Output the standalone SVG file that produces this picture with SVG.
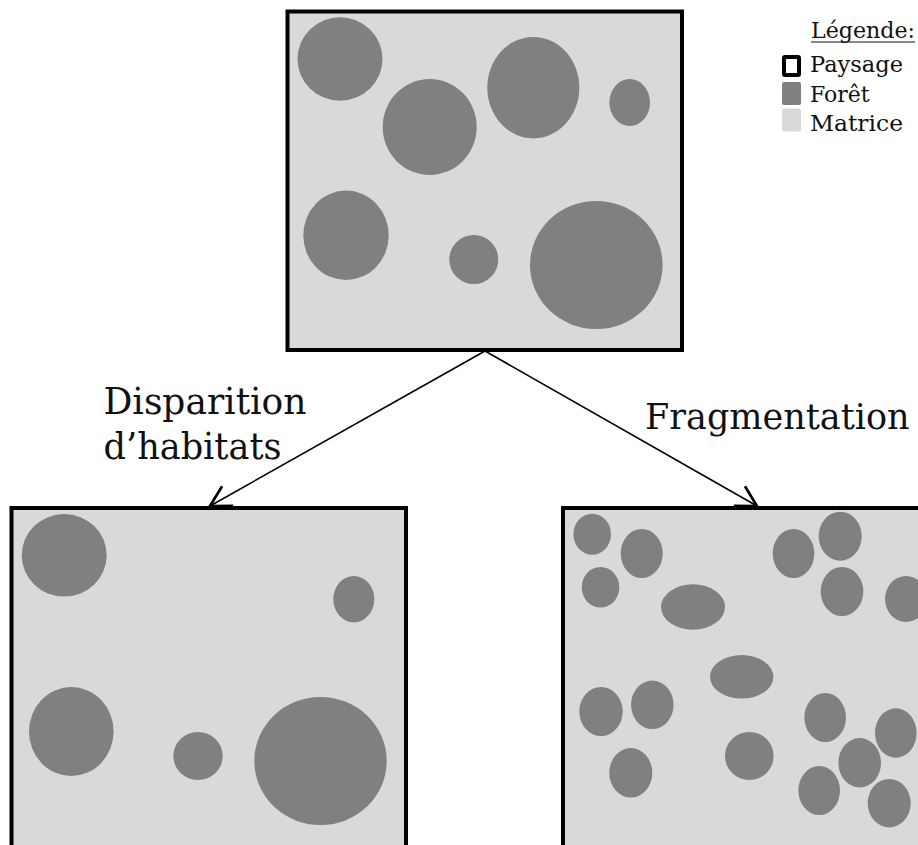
<svg xmlns="http://www.w3.org/2000/svg" width="918" height="845" viewBox="0 0 918 845">
  <style>
    .land { fill: #d9d9d9; stroke: #000; stroke-width: 4; }
    .forest { fill: #808080; }
    .lbl { font-family: "DejaVu Serif", "Liberation Serif", serif; font-size: 37px; fill: #111; }
    .leg { font-family: "DejaVu Serif", "Liberation Serif", serif; font-size: 22px; fill: #111; }
    .conn { stroke: #000; stroke-width: 1.6; fill: none; }
  </style>
  <defs>
    <marker id="open" markerUnits="userSpaceOnUse" markerWidth="30" markerHeight="30" viewBox="-16 -10 20 20" refX="0" refY="0" orient="auto">
      <path d="M-13.5,-7.5 L0,0 L-13.5,7.5" fill="none" stroke="#000" stroke-width="1.8"/>
    </marker>
  </defs>
  <rect width="918" height="845" fill="#fff"/>

  <g id="landscape-initial">
    <rect class="land" x="287.5" y="11.5" width="394.5" height="338.5"/>
    <ellipse class="forest" cx="340" cy="59" rx="42.5" ry="41.7"/>
    <ellipse class="forest" cx="429.7" cy="127" rx="47" ry="48"/>
    <ellipse class="forest" cx="533.3" cy="87.7" rx="46" ry="50.7"/>
    <ellipse class="forest" cx="629.7" cy="102.5" rx="20.3" ry="23.5"/>
    <ellipse class="forest" cx="346" cy="235.3" rx="42.7" ry="44.7"/>
    <ellipse class="forest" cx="473.8" cy="259.5" rx="24.5" ry="24.5"/>
    <ellipse class="forest" cx="596.3" cy="265" rx="66.3" ry="64"/>
  </g>

  <g id="landscape-loss">
    <rect class="land" x="11.5" y="508" width="394.5" height="345"/>
    <ellipse class="forest" cx="64.2" cy="555.3" rx="42.5" ry="41.3"/>
    <ellipse class="forest" cx="353.8" cy="599.2" rx="20.5" ry="23.2"/>
    <ellipse class="forest" cx="71.3" cy="731.5" rx="42.3" ry="44.5"/>
    <ellipse class="forest" cx="198" cy="756" rx="24.7" ry="24"/>
    <ellipse class="forest" cx="320.5" cy="761" rx="66.2" ry="64"/>
  </g>

  <g id="landscape-frag">
    <rect class="land" x="563" y="508" width="394.5" height="345"/>
    <ellipse class="forest" cx="592.2" cy="534.2" rx="18.8" ry="20.5"/>
    <ellipse class="forest" cx="641.7" cy="553.5" rx="21" ry="24.5"/>
    <ellipse class="forest" cx="600.5" cy="587.3" rx="18.8" ry="20.3"/>
    <ellipse class="forest" cx="693" cy="607" rx="32" ry="22.7"/>
    <ellipse class="forest" cx="793.5" cy="553.5" rx="20.8" ry="24.5"/>
    <ellipse class="forest" cx="840.2" cy="536.2" rx="21.5" ry="24.5"/>
    <ellipse class="forest" cx="842" cy="591.5" rx="21.3" ry="24.5"/>
    <ellipse class="forest" cx="906" cy="599" rx="21" ry="23"/>
    <ellipse class="forest" cx="741.7" cy="676.8" rx="31.7" ry="21.8"/>
    <ellipse class="forest" cx="601" cy="711.5" rx="21.7" ry="24.5"/>
    <ellipse class="forest" cx="652.3" cy="704.8" rx="21.3" ry="24.2"/>
    <ellipse class="forest" cx="630.8" cy="772.8" rx="21.5" ry="24.8"/>
    <ellipse class="forest" cx="749.3" cy="756" rx="24.3" ry="24"/>
    <ellipse class="forest" cx="825.2" cy="717.5" rx="20.8" ry="24.5"/>
    <ellipse class="forest" cx="895.8" cy="733" rx="20.8" ry="24.7"/>
    <ellipse class="forest" cx="859.7" cy="762.7" rx="21.3" ry="24.7"/>
    <ellipse class="forest" cx="819.2" cy="790.5" rx="20.8" ry="24.5"/>
    <ellipse class="forest" cx="889.2" cy="803.2" rx="21.5" ry="24.2"/>
  </g>

  <g id="connectors">
    <line class="conn" x1="485" y1="351" x2="210" y2="506" marker-end="url(#open)"/>
    <line class="conn" x1="485" y1="351" x2="757" y2="506" marker-end="url(#open)"/>
  </g>

  <g id="label-loss">
    <text class="lbl" x="103.5" y="413.5" textLength="203" lengthAdjust="spacingAndGlyphs">Disparition</text>
    <text class="lbl" x="103.5" y="458.5" textLength="178" lengthAdjust="spacingAndGlyphs">d’habitats</text>
  </g>
  <g id="label-frag">
    <text class="lbl" x="645" y="428.5" style="font-size:35px">Fragmentation</text>
  </g>

  <g id="legend">
    <text class="leg" x="811" y="38" textLength="104" lengthAdjust="spacingAndGlyphs">Légende:</text>
    <line x1="811" y1="42" x2="915" y2="42" stroke="#111" stroke-width="1.2"/>
    <rect x="784" y="57" width="15" height="18" rx="1" fill="#fff" stroke="#000" stroke-width="4"/>
    <text class="leg" x="810" y="72" textLength="93" lengthAdjust="spacingAndGlyphs">Paysage</text>
    <rect x="782" y="82" width="19" height="23" rx="2" fill="#808080"/>
    <text class="leg" x="810" y="101.5">Forêt</text>
    <rect x="782" y="108.5" width="19" height="23" rx="2" fill="#d9d9d9"/>
    <text class="leg" x="810" y="130.5" textLength="93" lengthAdjust="spacingAndGlyphs">Matrice</text>
  </g>
</svg>
